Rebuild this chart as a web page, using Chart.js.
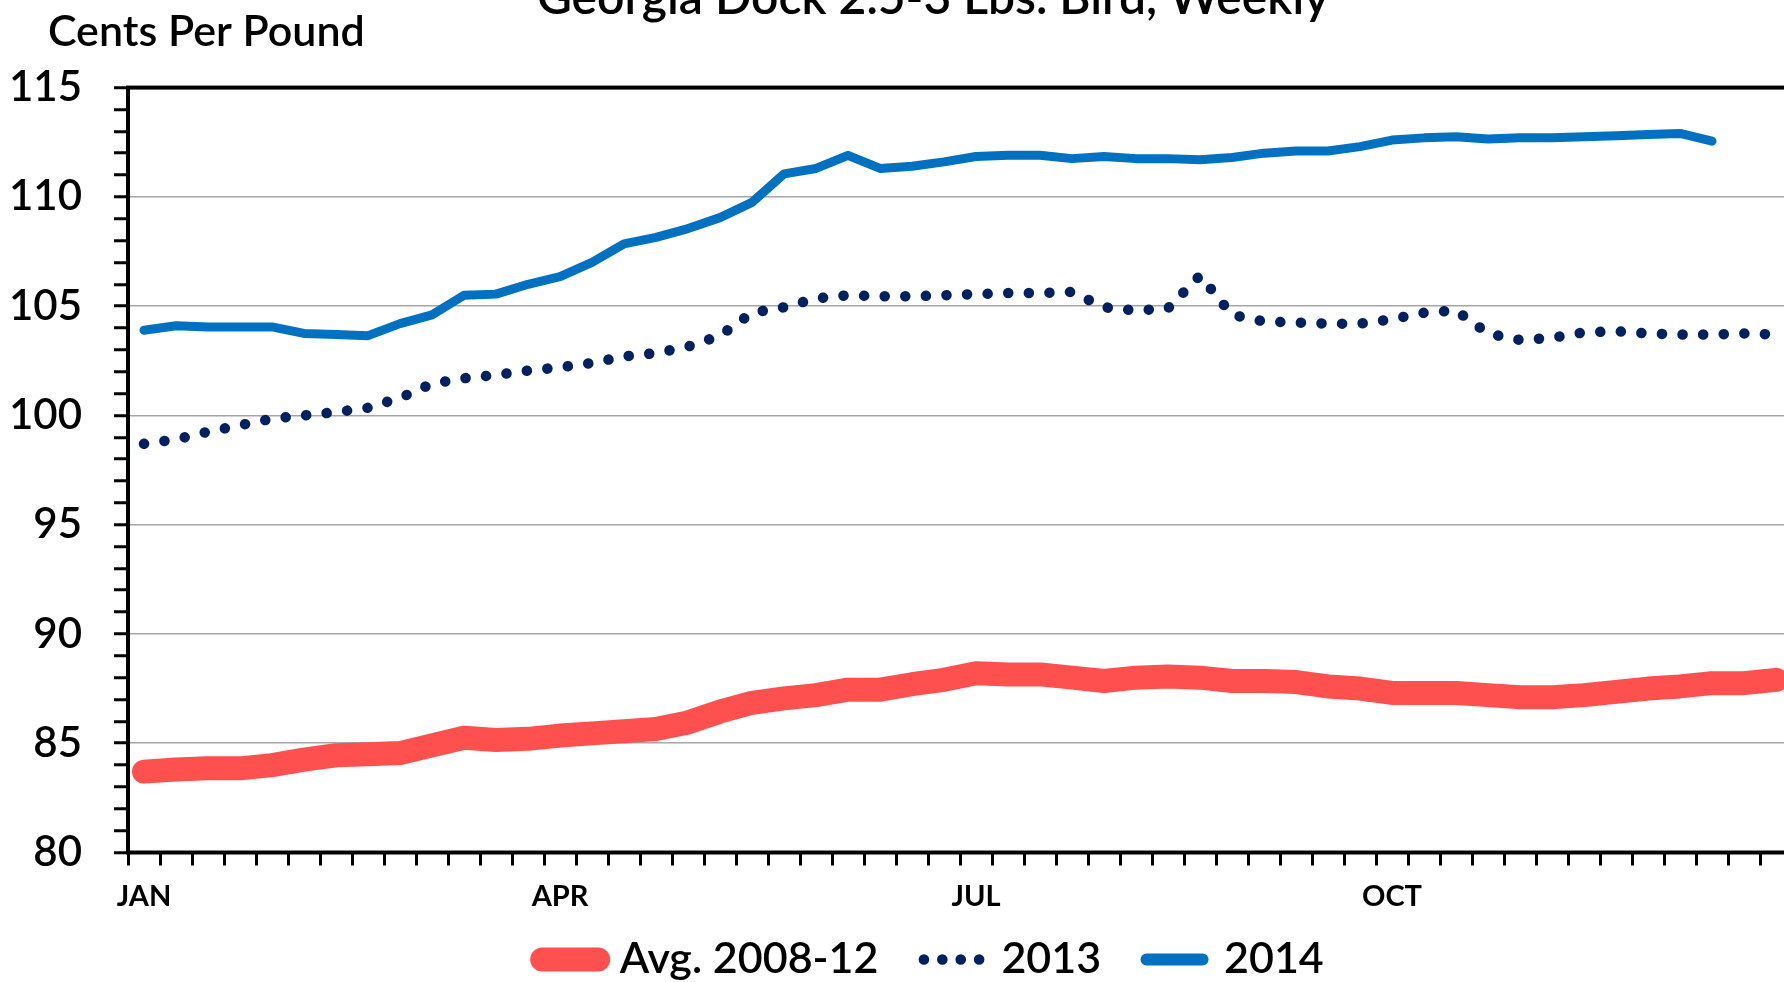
<!DOCTYPE html>
<html lang="en">
<head>
<meta charset="utf-8">
<title>Georgia Dock 2.5-3 Lbs. Bird, Weekly</title>
<script src="https://cdn.jsdelivr.net/npm/chart.js@4.4.1/dist/chart.umd.min.js"></script>
<style>
    html, body { margin: 0; padding: 0; background: #fff; overflow: hidden; width: 1784px; height: 982px; }
    #contenedor { position: absolute; left: 0; top: -40px; width: 1866px; height: 1031px; }
</style>
</head>
<body>
<div id="contenedor"><canvas id="graficaPrecios"></canvas></div>
<script>
"use strict";
/* Semanas del año (categorías) */
const semanas = [1, 2, 3, 4, 5, 6, 7, 8, 9, 10, 11, 12, 13, 14, 15, 16, 17, 18, 19, 20, 21, 22, 23, 24, 25, 26,
    27, 28, 29, 30, 31, 32, 33, 34, 35, 36, 37, 38, 39, 40, 41, 42, 43, 44, 45, 46, 47, 48, 49, 50, 51, 52];

/* Etiquetas de meses y la semana donde aparecen */
const etiquetasMes = ["JAN", "APR", "JUL", "OCT"];
const semanasMes = [1, 14, 27, 40];

/* Series (centavos por libra) */
const promedio0812 = [83.7, 83.8, 83.85, 83.85, 84.0, 84.25, 84.45, 84.5, 84.55, 84.9, 85.25, 85.15, 85.2,
    85.35, 85.45, 85.55, 85.65, 85.95, 86.45, 86.85, 87.05, 87.2, 87.45, 87.45, 87.7, 87.9,
    88.2, 88.15, 88.15, 88.0, 87.85, 88.0, 88.05, 88.0, 87.85, 87.85, 87.8, 87.6, 87.5,
    87.3, 87.3, 87.3, 87.2, 87.1, 87.1, 87.2, 87.35, 87.5, 87.6, 87.75, 87.75, 87.9];

const serie2013 = [98.7, 98.9, 99.25, 99.55, 99.85, 100.0, 100.15, 100.35, 100.8, 101.45, 101.7, 101.85, 102.05,
    102.2, 102.4, 102.7, 102.85, 103.15, 103.65, 104.7, 104.95, 105.35, 105.5, 105.45, 105.45, 105.5,
    105.55, 105.6, 105.6, 105.65, 104.95, 104.8, 104.9, 106.4, 104.6, 104.3, 104.25, 104.2, 104.2,
    104.4, 104.7, 104.8, 103.75, 103.45, 103.55, 103.8, 103.85, 103.75, 103.7, 103.7, 103.75, 103.7];

const serie2014 = [103.9, 104.1, 104.05, 104.05, 104.05, 103.75, 103.7, 103.65, 104.2, 104.6, 105.5, 105.55, 106.0,
    106.35, 107.0, 107.85, 108.15, 108.55, 109.05, 109.75, 111.05, 111.3, 111.9, 111.3, 111.4, 111.6,
    111.85, 111.9, 111.9, 111.75, 111.85, 111.75, 111.75, 111.7, 111.8, 112.0, 112.1, 112.1, 112.3,
    112.6, 112.7, 112.75, 112.65, 112.7, 112.7, 112.75, 112.8, 112.85, 112.9, 112.55];

/* Eje vertical */
const ejeMin = 80;
const ejeMax = 115;
const pasoEtiqueta = 5;

/* Estilo de las muestras de la leyenda */
const grosorLeyenda = [24, 10.5, 12];
const punteado = [0.1, 20.5];
const punteadoLeyenda = [0.1, 18.3];

/* Marco del área de trazado y título del eje Y */
const marcoYTitulo = {
    id: "marcoYTitulo",
    afterDraw(chart) {
        const { ctx, chartArea } = chart;
        ctx.save();
        ctx.strokeStyle = "#000";
        ctx.lineWidth = 4;
        ctx.strokeRect(chartArea.left, chartArea.top, chartArea.right - chartArea.left, chartArea.bottom - chartArea.top);
        ctx.font = "600 43px Lato";
        ctx.fillStyle = "#000";
        ctx.textBaseline = "alphabetic";
        ctx.textAlign = "left";
        ctx.fillText("Cents Per Pound", 48, chartArea.top - 42);
        ctx.restore();
    }
};

/* Crear la gráfica */
function crearGrafica() {
    const canvas = document.getElementById("graficaPrecios");

    new Chart(canvas, {
        type: "line",
        data: {
            labels: semanas,
            datasets: [
                {
                    label: "Avg. 2008-12",
                    data: promedio0812,
                    borderColor: "#FF5050",
                    backgroundColor: "#FF5050",
                    borderWidth: 24,
                    borderCapStyle: "round",
                    borderJoinStyle: "round"
                },
                {
                    label: "2013",
                    data: serie2013,
                    borderColor: "#002060",
                    backgroundColor: "#002060",
                    borderWidth: 10.5,
                    borderDash: punteado,
                    borderCapStyle: "round",
                    borderJoinStyle: "round"
                },
                {
                    label: "2014",
                    data: serie2014,
                    borderColor: "#0070C0",
                    backgroundColor: "#0070C0",
                    borderWidth: 9,
                    borderCapStyle: "round",
                    borderJoinStyle: "round"
                }
            ]
        },
        options: {
            responsive: true,
            maintainAspectRatio: false,
            animation: false,
            layout: { padding: 0 },
            elements: { point: { radius: 0 }, line: { tension: 0 } },
            scales: {
                x: {
                    offset: true,
                    afterFit: (scale) => { scale.height = 61.5; },
                    grid: {
                        offset: true,
                        drawOnChartArea: false,
                        tickColor: "#000",
                        tickWidth: 3,
                        tickLength: 13
                    },
                    border: { display: false },
                    ticks: {
                        autoSkip: false,
                        maxRotation: 0,
                        padding: 13.5,
                        color: "#000",
                        font: { family: "Lato", size: 29, weight: "bold" },
                        callback: (valor, indice) => {
                            const pos = semanasMes.indexOf(semanas[indice]);
                            return pos >= 0 ? etiquetasMes[pos] : "";
                        }
                    }
                },
                y: {
                    min: ejeMin,
                    max: ejeMax,
                    afterFit: (scale) => { scale.width = 128; },
                    grid: {
                        color: (c) => (c.tick && c.tick.value % pasoEtiqueta === 0) ? "#A6A6A6" : "rgba(0,0,0,0)",
                        lineWidth: 1.5,
                        tickColor: "#000",
                        tickWidth: 3,
                        tickLength: 14
                    },
                    border: { display: false },
                    ticks: {
                        stepSize: 1,
                        autoSkip: false,
                        padding: 32,
                        color: "#000",
                        font: { family: "Lato", size: 42, weight: "600" },
                        callback: (valor) => valor % pasoEtiqueta === 0 ? valor : ""
                    }
                },
                /* margen derecho vacío, para centrar título y leyenda como en el original */
                margenDerecho: {
                    type: "linear",
                    position: "right",
                    afterFit: (scale) => { scale.width = 74; },
                    grid: { display: false },
                    border: { display: false },
                    ticks: { display: false }
                }
            },
            plugins: {
                title: {
                    display: true,
                    text: "Georgia Dock 2.5-3 Lbs. Bird, Weekly",
                    color: "#000",
                    font: { family: "Lato", size: 48, weight: "600" },
                    padding: { top: 10, bottom: 60 }
                },
                legend: {
                    position: "bottom",
                    labels: {
                        usePointStyle: true,
                        pointStyle: "line",
                        pointStyleWidth: 56,
                        padding: 24,
                        color: "#000",
                        font: { family: "Lato", size: 43, weight: "600" },
                        generateLabels: (chart) => {
                            const items = Chart.defaults.plugins.legend.labels.generateLabels(chart);
                            items.forEach((item, i) => {
                                const ds = chart.data.datasets[i];
                                item.lineWidth = grosorLeyenda[i];
                                item.strokeStyle = ds.borderColor;
                                item.lineCap = "round";
                                item.lineDash = ds.borderDash ? punteadoLeyenda : [];
                                if (i < items.length - 1) item.text = item.text + "  ";
                            });
                            return items;
                        }
                    }
                },
                tooltip: { enabled: false }
            }
        },
        plugins: [marcoYTitulo]
    });
}

/* Ejecutar al cargar la página */
document.addEventListener("DOMContentLoaded", () => {
    Promise.all([
        document.fonts.load("600 48px Lato"),
        document.fonts.load("bold 28px Lato")
    ]).then(crearGrafica, crearGrafica);
});
</script>
</body>
</html>
